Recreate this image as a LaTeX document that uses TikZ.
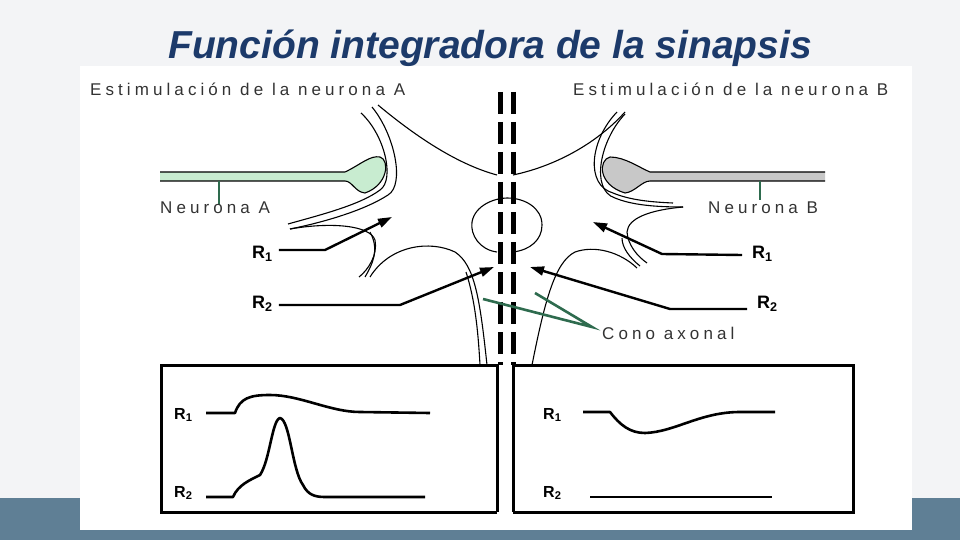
\documentclass[tikz,border=0pt]{standalone}
\usepackage{fontspec}
\setmainfont{Liberation Sans}
\newfontfamily\wide[LetterSpace=24]{Liberation Sans}
\usetikzlibrary{arrows.meta}
\definecolor{bgc}{HTML}{F3F4F6}
\definecolor{barc}{HTML}{5F7F95}
\definecolor{titc}{HTML}{1C3A6A}
\definecolor{gfill}{HTML}{C8ECD0}
\definecolor{gline}{HTML}{2E6B4E}
\definecolor{grayfill}{HTML}{C8C8C8}
\definecolor{txt}{HTML}{333333}
\tikzset{
  lbl/.style={font=\wide\fontsize{17}{17}\selectfont, text=txt, inner sep=0pt, anchor=west},
  rl/.style={font=\bfseries\fontsize{18}{18}\selectfont, inner sep=0pt, anchor=west},
  bl/.style={font=\bfseries\fontsize{16}{16}\selectfont, inner sep=0pt, anchor=west},
  arr/.style={line width=2.4pt, -{Triangle[length=14pt,width=9pt]}},
  thin/.style={line width=1.1pt},
  trace/.style={line width=2.6pt, line join=round},
  dsh/.style={line width=5pt, dash pattern=on 22pt off 8pt},
  gptr/.style={gline, line width=2.6pt}
}
\begin{document}
\begin{tikzpicture}[x=1pt,y=-1pt]
\useasboundingbox (0,0) rectangle (960,540);
\fill[bgc] (0,0) rectangle (960,540);
\fill[barc] (0,498) rectangle (960,540);
\fill[white] (80,66) rectangle (912,530);
% title
\node[font=\bfseries\itshape\fontsize{39}{39}\selectfont, text=titc] (title) at (490,48) {Función integradora de la sinapsis};
\node[lbl] (stA) at (90,89) {Estimulación de la neurona A};
\node[lbl] (stB) at (573,89) {Estimulación de la neurona B};
% neuron A
\filldraw[fill=gfill, thin] (160,172) -- (345,172) .. controls (360,165) and (370,155) .. (380,157) .. controls (390,160) and (388,185) .. (365,193) .. controls (355,192) and (352,181) .. (345,181) -- (160,181);
\draw[gptr] (219,181) -- (219,205);
\node[lbl] (nA) at (160,208) {Neurona A};
% neuron B
\filldraw[fill=grayfill, thin] (825,172) -- (650,172) .. controls (640,168) and (625,157) .. (610,157) .. controls (598,160) and (598,185) .. (625,193) .. controls (635,192) and (642,181) .. (650,181) -- (825,181);
\draw[gptr] (760,181) -- (760,200);
\node[lbl] (nB) at (708,208) {Neurona B};
% soma outlines
\draw[thin] (361,113) .. controls (385,135) and (395,180) .. (380,190) .. controls (360,205) and (320,215) .. (288,224);
\draw[thin] (372,107) .. controls (395,135) and (405,185) .. (388,195) .. controls (365,210) and (325,222) .. (290,229);
\draw[thin] (378,105) .. controls (420,140) and (460,165) .. (497,175);
\draw[thin] (513,175) .. controls (560,165) and (600,140) .. (625,112);
\draw[thin] (617,112) .. controls (590,140) and (585,185) .. (613,193) .. controls (630,200) and (650,202) .. (673,203);
\draw[thin] (625,114) .. controls (600,140) and (590,190) .. (615,198) .. controls (632,205) and (655,207) .. (683,207);
% left dendrite
\draw[thin] (290,229) .. controls (330,222) and (370,225) .. (375,240) .. controls (378,255) and (368,270) .. (359,277);
\draw[thin] (365,277) .. controls (372,265) and (380,250) .. (370,232);
% right dendrite
\draw[thin] (683,207) .. controls (650,210) and (628,218) .. (627,232) .. controls (628,245) and (637,256) .. (647,263);
\draw[thin] (640,266) .. controls (630,258) and (622,248) .. (622,238);
% hillock
\draw[thin] (370,277) .. controls (390,245) and (430,240) .. (455,252) .. controls (475,265) and (480,300) .. (487,365);
\draw[thin] (637,268) .. controls (620,252) and (595,245) .. (575,252) .. controls (555,262) and (545,300) .. (532,365);
\draw[thin] (480,365) .. controls (478,330) and (475,300) .. (466,272);
% nucleus
\draw[thin] (497,252) .. controls (480,250) and (470,235) .. (472,222) .. controls (475,205) and (495,198) .. (507,198) .. controls (525,198) and (542,208) .. (542,225) .. controls (542,240) and (530,250) .. (513,252);
% dashed axis
\draw[dsh] (500,92) -- (500,365);
\draw[dsh] (513,92) -- (513,365);
% boxes
\draw[line width=3pt] (497,512) -- (161,512) -- (161,365) -- (497,365) -- (497,512);
\draw[line width=3pt] (513,512) -- (853,512) -- (853,365) -- (513,365) -- (513,512);
% arrows
\node[rl] (lR1) at (252,254) {R\textsubscript{1}};
\node[rl] (lR2) at (252,304) {R\textsubscript{2}};
\node[rl] (rR1) at (752,254) {R\textsubscript{1}};
\node[rl] (rR2) at (757,304) {R\textsubscript{2}};
\coordinate (t1) at (392,217);
\coordinate (t2) at (494,267);
\coordinate (t3) at (593,222);
\coordinate (t4) at (530,267);
\draw[arr] (lR1.east) ++(6,-4) -- (325,250) -- (t1);
\draw[arr] (lR2.east) ++(6,1) -- (400,305) -- (t2);
\draw[arr] (rR1.west) ++(-10,1) -- (662,254) -- (t3);
\draw[arr] (rR2.west) ++(-10,5) -- (670,309) -- (t4);
% cono axonal
\node[lbl] (cono) at (602,333) {Cono axonal};
\draw[gptr] (483,299) -- (592,327) -- (535,293);
% traces
\node[bl] (bR1) at (174,415) {R\textsubscript{1}};
\node[bl] (bR2) at (174,493) {R\textsubscript{2}};
\node[bl] (cR1) at (543,415) {R\textsubscript{1}};
\node[bl] (cR2) at (543,493) {R\textsubscript{2}};
\draw[trace] (206,413) -- (235,413) .. controls (240,398) and (250,395) .. (270,395) .. controls (300,395) and (330,412) .. (360,412) -- (430,413);
\draw[trace] (206,497) -- (233,497) .. controls (238,485) and (250,480) .. (260,475) .. controls (270,460) and (272,420) .. (280,418) .. controls (290,420) and (292,470) .. (303,485) .. controls (308,495) and (315,497) .. (325,497) -- (425,497);
\draw[trace] (583,412) -- (610,412) .. controls (620,425) and (630,433) .. (645,433) .. controls (675,432) and (700,412) .. (740,412) -- (775,412);
\draw[trace] (590,497) -- (772,497);
\end{tikzpicture}
\end{document}
